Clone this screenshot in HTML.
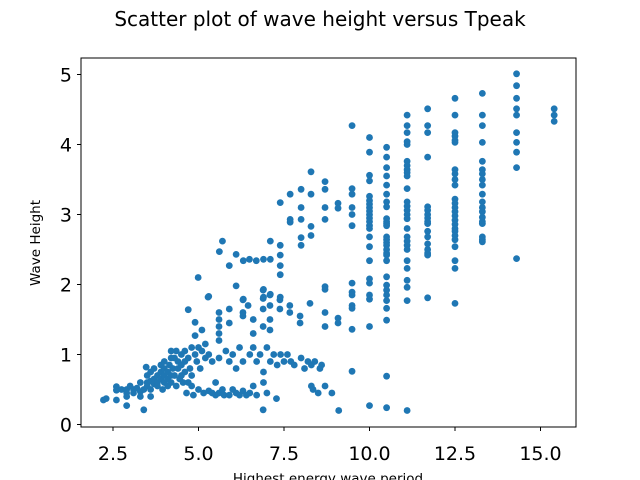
<!DOCTYPE html>
<html><head><meta charset="utf-8"><style>
body{margin:0;background:#fff}
svg{display:block;font-family:"DejaVu Sans","Liberation Sans",sans-serif}
</style></head><body>
<svg id="chart" width="640" height="480" viewBox="0 0 640 480">
<text x="320" y="26" text-anchor="middle" font-size="20">Scatter plot of wave height versus Tpeak</text>
<g id="points"></g>
<rect x="81" y="58" width="495" height="369" fill="none" stroke="#000" stroke-width="1"/>
<g id="axes"></g>
<text x="328" y="483" text-anchor="middle" font-size="13.5">Highest energy wave period</text>
<text transform="translate(40,243) rotate(-90)" text-anchor="middle" font-size="13.5">Wave Height</text>
</svg>
<script>
const xTicks = [2.5, 5.0, 7.5, 10.0, 12.5, 15.0];
const xTickLabels = ["2.5", "5.0", "7.5", "10.0", "12.5", "15.0"];
const yTicks = [0, 1, 2, 3, 4, 5];
const yTickLabels = ["0", "1", "2", "3", "4", "5"];
const leftX = [2.22,2.3,2.6,2.6,2.6,2.75,2.9,2.9,2.9,2.9,3.0,3.1,3.1,3.2,3.3,3.4,3.4,3.47,3.5,3.5,3.6,3.6,3.7,3.7,3.8,3.8,3.8,3.9,3.9,3.9,3.95,4.0,4.0,4.0,4.1,4.1,4.1,4.15,4.2,4.2,4.25,4.3,4.3,4.35,4.35,4.4,4.4,4.45,4.5,4.5,4.55,4.6,4.6,4.6,4.65,4.7,4.7,4.75,4.8,4.8,4.85,4.9,4.9,4.9,4.95,5.0,5.0,5.05,5.1,5.1,5.15,5.2,5.2,5.3,5.3,5.3,5.4,5.4,5.5,5.5,5.6,5.6,5.6,5.6,5.6,5.6,5.6,5.7,5.75,5.8,5.9,5.9,5.9,5.9,6.0,6.0,6.1,6.1,6.2,6.2,6.3,6.3,6.3,6.3,6.3,6.4,6.45,6.5,6.5,6.6,6.6,6.6,6.6,6.7,6.7,6.8,6.89,6.89,6.89,6.89,6.89,6.9,6.9,7.0,7.0,7.09,7.09,7.09,7.09,7.1,7.2,7.28,7.3,7.38,7.38,7.4,7.5,7.6,7.67,7.67,7.7,7.8,7.97,7.97,8.0,8.1,8.2,8.26,8.3,8.4,8.3,8.35,8.5,8.55,8.6,8.7,8.7,8.7,8.7,8.9,9.1,
3.3,3.5,3.6,3.7,4.0,4.2,4.5,4.2,4.7,4.8,3.3,3.6,
4.99,5.28,5.61,5.7,5.9,6.1,6.1,6.31,6.49,6.69,6.9,7.1,7.1,7.39,7.39,7.39,7.39,7.39,7.68,7.68,7.68,8.0,8.0,8.0,8.0,8.0,8.29,8.29,8.29,8.29,8.7,8.7,8.7,8.7,9.08,9.08,9.08,9.08,8.7,6.9,6.9,7.1,7.39,6.31];
const leftY = [.35,.37,.54,.49,.35,.5,.5,.45,.4,.27,.55,.5,.45,.52,.47,.5,.21,.82,.6,.55,.62,.5,.58,.65,.7,.6,.55,.85,.75,.65,.5,.8,.7,.6,.75,.65,.55,.85,.7,.6,.8,.7,.95,1.05,.55,.9,.8,.65,1.0,.7,.6,1.05,.9,.75,.45,1.64,.95,.8,1.1,.55,.42,1.46,1.27,1.0,.9,1.1,.5,.8,1.35,1.05,.45,1.15,.95,1.83,1.0,.48,.45,.9,.42,.6,1.6,1.5,1.4,1.3,1.2,.95,.45,.5,.42,1.05,1.65,1.45,.9,.42,.5,1.0,.45,.8,1.1,.42,1.78,1.6,1.55,.9,.48,.42,1.7,1.0,.45,1.5,1.3,.55,1.1,.42,.9,1.0,1.92,1.8,1.65,1.4,.21,.6,.75,1.1,.45,1.85,1.7,1.5,1.35,.9,1.0,.37,.85,1.78,1.65,1.0,.9,1.0,1.7,1.6,.9,.85,1.55,1.45,.95,.8,.9,1.73,.85,.9,.55,.5,.45,.8,.85,.55,1.97,1.6,1.4,.45,.2,
.6,.7,.75,.8,.9,.95,.85,1.05,.6,.7,.4,.4,
2.10,1.82,2.47,2.62,2.27,2.43,1.98,2.34,2.36,2.34,2.36,2.36,2.62,3.17,2.56,2.42,2.27,2.14,3.29,2.93,2.89,3.36,3.1,2.93,2.67,2.56,3.61,3.29,2.83,2.7,3.47,3.36,3.1,2.93,3.16,3.09,1.52,1.45,1.93,1.93,1.82,1.86,1.82,1.79];
const colPeriods = [9.49, 10.0, 10.5, 11.1, 11.7, 12.5, 13.3, 14.3, 15.4];
const colHeights = [
 [4.27,3.37,3.29,3.10,3.00,2.84,2.02,1.89,1.85,1.70,1.66,1.36,0.76],
 [4.10,3.89,3.56,3.48,3.26,3.2,3.15,3.1,3.05,3.0,2.95,2.9,2.84,2.80,2.68,2.54,2.34,2.08,2.02,1.85,1.79,1.40,0.27],
 [3.96,3.82,3.67,3.55,3.42,3.29,3.18,3.11,2.94,2.9,2.87,2.84,2.68,2.64,2.6,2.56,2.5,2.45,2.42,2.34,2.11,1.99,1.92,1.85,1.77,1.66,1.49,0.69,0.24],
 [4.42,4.27,4.17,4.04,4.00,3.76,3.7,3.64,3.6,3.55,3.37,3.18,3.12,3.06,3.0,2.94,2.80,2.68,2.62,2.56,2.5,2.34,2.23,2.06,1.96,1.77,0.20],
 [4.51,4.27,4.17,3.82,3.11,3.06,3.0,2.95,2.9,2.87,2.76,2.68,2.58,2.5,2.45,2.42,1.81],
 [4.66,4.42,4.17,4.12,4.06,4.03,3.64,3.58,3.5,3.42,3.22,3.16,3.1,3.04,2.98,2.92,2.86,2.8,2.76,2.7,2.64,2.54,2.34,2.23,1.73],
 [4.73,4.42,4.27,4.03,3.76,3.64,3.58,3.5,3.42,3.29,3.18,3.1,3.04,2.96,2.9,2.87,2.68,2.64,2.61],
 [5.01,4.84,4.66,4.51,4.42,4.17,4.03,3.89,3.67,2.37],
 [4.51,4.42,4.33]
];
const NS = "http://www.w3.org/2000/svg";
function xScale(v){ return 113 + (v - 2.5) * 34.2; }
function yScale(v){ return 424.5 - v * 70; }
const pts = document.getElementById('points');
function dot(x, y){
  const c = document.createElementNS(NS, 'circle');
  c.setAttribute('cx', xScale(x)); c.setAttribute('cy', yScale(y));
  c.setAttribute('r', 3.4); c.setAttribute('fill', '#1f77b4');
  
  
  pts.appendChild(c);
}
for (let i = 0; i < leftX.length; i++) dot(leftX[i], leftY[i]);
for (let j = 0; j < colPeriods.length; j++) for (const h of colHeights[j]) dot(colPeriods[j], h);
const axes = document.getElementById('axes');
xTicks.forEach((t, i) => {
  const x = xScale(t);
  const l = document.createElementNS(NS, 'line');
  l.setAttribute('x1', x); l.setAttribute('x2', x); l.setAttribute('y1', 427); l.setAttribute('y2', 431);
  l.setAttribute('stroke', '#000');
  
  
  axes.appendChild(l);
  const tx = document.createElementNS(NS, 'text');
  tx.setAttribute('x', x); tx.setAttribute('y', 460); tx.setAttribute('text-anchor', 'middle'); tx.setAttribute('font-size', '19');
  tx.textContent = xTickLabels[i];
  
  
  axes.appendChild(tx);
});
yTicks.forEach((t, i) => {
  const y = yScale(t);
  const l = document.createElementNS(NS, 'line');
  l.setAttribute('x1', 77); l.setAttribute('x2', 81); l.setAttribute('y1', y); l.setAttribute('y2', y);
  l.setAttribute('stroke', '#000');
  
  
  axes.appendChild(l);
  const tx = document.createElementNS(NS, 'text');
  tx.setAttribute('x', 72); tx.setAttribute('y', y + 7); tx.setAttribute('text-anchor', 'end'); tx.setAttribute('font-size', '19');
  tx.textContent = yTickLabels[i];
  
  
  axes.appendChild(tx);
});
</script>
</body></html>
